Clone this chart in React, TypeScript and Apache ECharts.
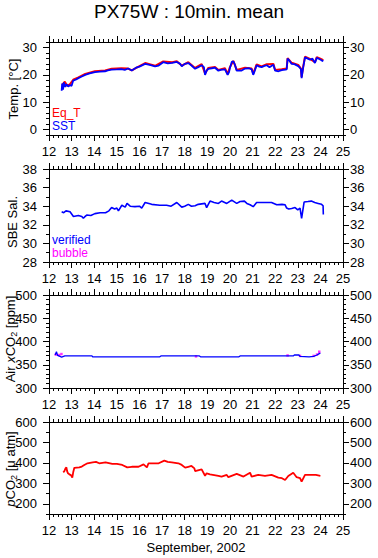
import React, { useEffect, useRef } from "react";
import * as echarts from "echarts";

const FONT = "Liberation Sans, Arial, Helvetica, sans-serif";

// X axis (day of September 2002)
const xMin = 12;
const xMax = 25;

// Panel 1: temperature
const tempMajor = [0, 10, 20, 30];
const tempMinor = [-2, 0, 2, 4, 6, 8, 10, 12, 14, 16, 18, 20, 22, 24, 26, 28, 30, 32];
const sstData: number[][] = [
  [12.56, 14.2], [12.58, 16.8], [12.62, 14.6], [12.66, 17.2], [12.72, 15.6], [12.78, 16.6], [12.85, 15.7],
  [12.92, 16.2], [13.0, 16.0], [13.07, 17.9], [13.2, 18.3], [13.3, 18.8], [13.45, 19.4], [13.6, 20.0],
  [13.8, 20.5], [14.03, 21.0], [14.25, 21.2], [14.48, 21.3], [14.6, 21.6], [14.77, 21.9], [15.0, 22.0],
  [15.2, 22.1], [15.35, 21.8], [15.5, 22.3], [15.66, 21.6], [15.85, 22.6], [16.0, 23.0], [16.25, 24.0],
  [16.45, 23.6], [16.69, 23.1], [16.85, 23.4], [17.05, 24.6], [17.25, 24.2], [17.45, 24.4], [17.65, 24.7],
  [17.8, 24.0], [17.87, 23.1], [18.0, 24.0], [18.16, 24.3], [18.3, 23.4], [18.46, 22.2], [18.6, 22.8],
  [18.75, 23.5], [18.85, 22.8], [18.9, 20.0], [18.97, 21.5], [19.04, 22.2], [19.2, 22.4], [19.34, 22.6],
  [19.49, 21.5], [19.6, 21.8], [19.78, 22.0], [19.9, 20.0], [19.96, 21.0], [20.0, 22.5], [20.08, 24.7],
  [20.15, 24.9], [20.22, 23.7], [20.3, 21.5], [20.5, 21.5], [20.67, 22.3], [20.85, 22.4], [20.96, 22.0],
  [21.03, 20.0], [21.1, 21.5], [21.18, 23.5], [21.3, 23.0], [21.4, 22.8], [21.5, 23.2], [21.63, 23.5],
  [21.75, 22.8], [21.92, 23.7], [22.0, 21.5], [22.15, 21.3], [22.29, 21.7], [22.45, 21.9], [22.51, 22.0],
  [22.55, 25.9], [22.6, 25.5], [22.73, 24.0], [22.85, 23.9], [23.02, 23.2], [23.1, 22.5], [23.14, 22.0],
  [23.17, 18.8], [23.2, 20.5], [23.24, 22.7], [23.32, 26.4], [23.42, 26.0], [23.54, 25.5], [23.65, 25.9],
  [23.76, 24.3], [23.84, 26.2], [23.95, 25.8], [24.05, 25.3], [24.13, 25.0],
];
const eqtData: number[][] = [
  [12.6, 16.5], [12.7, 17.5], [12.8, 16.0], [12.92, 16.5], [13.07, 18.2], [13.3, 19.1], [13.6, 20.3],
  [14.03, 21.3], [14.48, 21.6], [14.77, 22.2], [15.2, 22.4], [15.5, 22.3], [15.66, 21.6], [16.0, 23.2],
  [16.25, 24.3], [16.69, 23.3], [17.05, 24.9], [17.45, 24.6], [17.65, 25.0], [17.87, 23.4], [18.16, 24.6],
  [18.46, 22.5], [18.75, 23.9], [18.9, 20.5], [19.04, 22.5], [19.34, 22.9], [19.49, 21.8], [19.78, 22.4],
  [19.9, 20.3], [20.0, 22.8], [20.15, 25.1], [20.3, 21.8], [20.67, 22.6], [20.96, 22.3], [21.03, 20.4],
  [21.18, 23.8], [21.4, 23.1], [21.63, 23.9], [21.92, 24.0], [22.0, 21.8], [22.29, 22.0], [22.51, 22.3],
  [22.55, 26.1], [22.73, 24.4], [23.02, 23.6], [23.14, 22.3], [23.17, 19.2], [23.24, 23.0], [23.32, 26.6],
  [23.54, 25.8], [23.76, 24.6], [23.84, 26.5], [24.05, 25.7], [24.13, 25.4],
];

// Panel 2: salinity
const salMajor = [28, 30, 32, 34, 36, 38];
const salMinor = [28, 29, 30, 31, 32, 33, 34, 35, 36, 37, 38];
const salData: number[][] = [
  [12.56, 33.4], [12.65, 33.3], [12.75, 33.5], [12.93, 33.4], [13.08, 32.9], [13.3, 33.0], [13.45, 32.9],
  [13.52, 32.7], [13.6, 32.9], [13.67, 33.05], [13.85, 33.0], [14.03, 33.2], [14.26, 33.3], [14.5, 33.3],
  [14.65, 33.5], [14.77, 33.85], [14.9, 33.7], [15.0, 33.8], [15.07, 33.5], [15.22, 34.1], [15.37, 33.9],
  [15.45, 34.3], [15.59, 34.0], [15.8, 33.95], [16.0, 34.0], [16.1, 33.8], [16.25, 34.4], [16.54, 34.2],
  [16.9, 34.1], [17.2, 34.1], [17.4, 34.0], [17.65, 34.4], [17.87, 33.9], [18.0, 34.0], [18.16, 34.2],
  [18.3, 34.0], [18.46, 34.05], [18.6, 34.2], [18.9, 34.3], [18.97, 33.85], [19.12, 34.55], [19.3, 34.4],
  [19.49, 34.3], [19.63, 34.55], [19.86, 34.3], [20.08, 34.65], [20.3, 34.3], [20.45, 34.5], [20.64, 34.55],
  [20.75, 34.3], [20.89, 34.15], [21.03, 33.95], [21.18, 34.4], [21.5, 34.4], [21.84, 34.4], [22.07, 34.15],
  [22.3, 34.2], [22.44, 34.15], [22.51, 33.8], [22.6, 33.7], [22.73, 33.75], [22.88, 33.85], [23.0, 33.6],
  [23.1, 33.8], [23.17, 32.7], [23.28, 34.45], [23.45, 34.5], [23.6, 34.55], [23.75, 34.4], [23.9, 34.3],
  [24.05, 34.2], [24.12, 34.05], [24.13, 33.1],
];
const salBubble: number[][] = [];

// Panel 3: air xCO2
const airMajor = [300, 350, 400, 450, 500];
const airMinor = [300, 310, 320, 330, 340, 350, 360, 370, 380, 390, 400, 410, 420, 430, 440, 450, 460, 470, 480, 490, 500];
const airVerified: number[][] = [
  [12.27, 371], [12.33, 378], [12.38, 370], [12.56, 366.5], [12.7, 369], [13.9, 369], [13.93, 367],
  [16.9, 367], [16.95, 369], [18.65, 369], [18.7, 367], [20.4, 367], [20.45, 369], [22.8, 369],
  [22.85, 371], [23.05, 371], [23.1, 368], [23.5, 367], [23.7, 368], [23.85, 371], [23.95, 374], [24.0, 375],
];
const airBubble: number[][] = [
  [12.3, 372], [12.45, 371], [12.55, 373], [18.5, 368], [22.55, 370], [23.1, 369], [23.7, 369],
  [23.85, 372], [23.95, 378],
];

// Panel 4: pCO2
const pco2Major = [200, 300, 400, 500, 600];
const pco2Minor = [150, 200, 250, 300, 350, 400, 450, 500, 550, 600];
const pco2Data: number[][] = [
  [12.63, 354], [12.68, 360], [12.73, 373], [12.77, 378], [12.8, 360], [12.84, 349], [12.9, 344],
  [12.97, 340], [13.03, 328], [13.07, 354], [13.12, 376], [13.34, 378], [13.45, 382], [13.56, 390],
  [13.7, 398], [13.93, 403], [14.08, 405], [14.22, 398], [14.5, 403], [14.8, 395], [15.0, 395],
  [15.24, 390], [15.46, 378], [15.66, 381], [15.96, 381], [16.18, 393], [16.33, 378], [16.4, 398],
  [16.85, 398], [17.1, 411], [17.25, 405], [17.43, 403], [17.72, 398], [17.87, 390], [18.02, 377],
  [18.16, 381], [18.3, 385], [18.43, 373], [18.46, 360], [18.75, 368], [18.9, 337], [18.97, 349],
  [19.12, 344], [19.49, 337], [19.63, 333], [19.86, 341], [19.93, 330], [20.1, 338], [20.3, 346],
  [20.6, 333], [20.89, 352], [20.96, 333], [21.25, 341], [21.55, 336], [21.84, 341], [22.14, 328],
  [22.3, 325], [22.44, 316], [22.58, 336], [22.8, 352], [22.95, 330], [23.1, 325], [23.17, 308],
  [23.32, 341], [23.54, 341], [23.8, 341], [24.0, 337],
];

const panels = [
  { top: 42, height: 93, min: -2, max: 32, major: tempMajor, minor: tempMinor },
  { top: 169, height: 93, min: 28, max: 38, major: salMajor, minor: salMinor },
  { top: 295, height: 93, min: 300, max: 500, major: airMajor, minor: airMinor },
  { top: 422, height: 92, min: 150, max: 600, major: pco2Major, minor: pco2Minor },
];

const BLACK = "#000";
const RED = "#ff0000";
const BLUE = "#0000ff";
const MAGENTA = "#ff00ff";

export default function App() {
  const ref = useRef<HTMLDivElement>(null);
  useEffect(() => {
    if (!ref.current) return;
    const chart = echarts.init(ref.current, undefined, { renderer: "svg" });
    const grid: any[] = [];
    const xAxis: any[] = [];
    const yAxis: any[] = [];
    const lineStyle = { color: BLACK, width: 1 };
    panels.forEach((p, i) => {
      grid.push({ left: 49, width: 294, top: p.top, height: p.height, containLabel: false });
      ["bottom", "top"].forEach((pos) => {
        xAxis.push({
          gridIndex: i, type: "value", min: xMin, max: xMax, interval: 1, position: pos,
          axisLine: { show: true, onZero: false, lineStyle },
          axisTick: { show: true, inside: false, length: 6, lineStyle },
          minorTick: { show: true, splitNumber: 5, length: 3, lineStyle },
          axisLabel: { show: pos === "bottom", margin: 10, fontSize: 13, color: BLACK, fontFamily: FONT },
          splitLine: { show: false }, minorSplitLine: { show: false },
        });
      });
      [["left", 12], ["right", 7]].forEach(([pos, margin]) => {
        yAxis.push({
          gridIndex: i, type: "value", min: p.min, max: p.max, position: pos,
          axisLine: { show: true, onZero: false, lineStyle },
          axisTick: { show: true, inside: false, length: 6, lineStyle, customValues: p.major },
          axisLabel: { show: true, margin, fontSize: 13, color: BLACK, fontFamily: FONT, customValues: p.major },
          splitLine: { show: false },
        });
        yAxis.push({
          gridIndex: i, type: "value", min: p.min, max: p.max, position: pos,
          axisLine: { show: false },
          axisTick: { show: true, inside: false, length: 3, lineStyle, customValues: p.minor },
          axisLabel: { show: false },
          splitLine: { show: false },
        });
      });
    });
    const lineSeries = (g: number, data: number[][], color: string, width = 2) => ({
      type: "line", xAxisIndex: g * 2, yAxisIndex: g * 4, data, showSymbol: false, symbol: "none",
      lineStyle: { color, width }, itemStyle: { color }, silent: true,
    });
    const series: any[] = [
      lineSeries(0, eqtData, RED, 2),
      lineSeries(0, sstData, BLUE, 1.8),
      lineSeries(1, salData, BLUE, 1.6),
      { type: "scatter", xAxisIndex: 2, yAxisIndex: 4, data: salBubble, symbol: "rect", symbolSize: 2, itemStyle: { color: MAGENTA } },
      lineSeries(2, airVerified, BLUE, 1.3),
      { type: "scatter", xAxisIndex: 4, yAxisIndex: 8, data: airBubble, symbol: "rect", symbolSize: 2.5, itemStyle: { color: MAGENTA } },
      lineSeries(3, pco2Data, RED, 1.8),
    ];
    const txt = (x: number, y: number, text: string, color = BLACK, size = 12) => ({
      type: "text", x, y,
      style: { text, fill: color, fontSize: size, fontFamily: FONT, align: "left", verticalAlign: "middle" },
    });
    const vtxt = (x: number, y: number, text: string, rich?: any) => ({
      type: "text", x, y, rotation: Math.PI / 2,
      style: { text, fill: BLACK, fontSize: 13, fontFamily: FONT, align: "center", verticalAlign: "middle", rich },
    });
    const richStyles = {
      n: { fontSize: 13, fontFamily: FONT, fill: BLACK },
      i: { fontSize: 13, fontFamily: FONT, fill: BLACK, fontStyle: "italic" },
      s: { fontSize: 9, fontFamily: FONT, fill: BLACK, padding: [7, 0, 0, 0] },
    };
    const graphic: any[] = [
      { type: "text", x: 189, y: 11, style: { text: "PX75W : 10min. mean", fill: BLACK, fontSize: 19, fontFamily: FONT, align: "center", verticalAlign: "middle" } },
      txt(52, 113, "Eq_T", RED),
      txt(52, 126, "SST", BLUE),
      txt(52, 240, "verified", BLUE),
      txt(52, 253, "bubble", MAGENTA),
      vtxt(13, 89, "Temp. [°C]"),
      vtxt(12, 222, "SBE Sal."),
      vtxt(10, 339, "{n|Air }{i|x}{n|CO}{s|2}{n| [ppm]}", richStyles),
      vtxt(10.5, 469, "{i|p}{n|CO}{s|2}{n| [μ atm]}", richStyles),
      { type: "text", x: 196, y: 547, style: { text: "September, 2002", fill: BLACK, fontSize: 13, fontFamily: FONT, align: "center", verticalAlign: "middle" } },
    ];
    chart.setOption({ animation: false, backgroundColor: "#fff", grid, xAxis, yAxis, series, graphic });
    return () => chart.dispose();
  }, []);
  return <div ref={ref} style={{ width: 378, height: 558, position: "absolute", left: 0, top: 0 }} />;
}
